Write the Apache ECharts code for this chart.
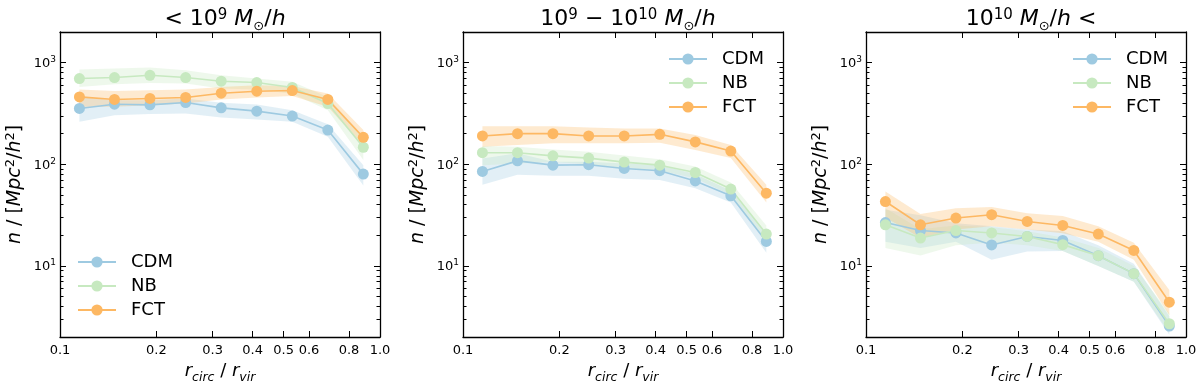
<!DOCTYPE html>
<html>
<head>
<meta charset="utf-8">
<script src="https://cdn.jsdelivr.net/npm/echarts@6/dist/echarts.min.js"></script>
<style>
html, body { margin: 0; padding: 0; background: #fff; }
#main { width: 1200px; height: 384px; }
</style>
</head>
<body>
<div id="main"></div>
<script>
// radial bins, r_circ / r_vir
var rBins = [0.115, 0.148, 0.191, 0.247, 0.319, 0.412, 0.532, 0.687, 0.887];

// tick values
var xTicks = [0.1, 0.2, 0.3, 0.4, 0.5, 0.6, 0.8, 1.0];
var yMajor = [10, 100, 1000];
var yMinor = [2, 3, 4, 5, 6, 7, 8, 9, 20, 30, 40, 50, 60, 70, 80, 90,
              200, 300, 400, 500, 600, 700, 800, 900];

// panel 1 : < 10^9 Msun/h
var cdm1   = [354, 390, 384, 405, 359, 333, 298, 217, 80];
var cdm1Lo = [262, 304, 313, 316, 289, 276, 262, 187, 62];
var cdm1Hi = [459, 427, 427, 443, 402, 388, 340, 247, 98];
var nb1    = [697, 713, 750, 713, 656, 637, 569, 396, 147];
var nb1Lo  = [577, 613, 631, 622, 556, 544, 495, 340, 110];
var nb1Hi  = [854, 873, 893, 840, 750, 697, 650, 460, 185];
var fct1   = [460, 434, 444, 454, 500, 523, 531, 434, 184];
var fct1Lo = [367, 367, 381, 396, 434, 454, 470, 367, 150];
var fct1Hi = [544, 527, 536, 544, 577, 600, 590, 497, 217];

// panel 2 : 10^9 - 10^10
var cdm2   = [85, 108, 98, 99, 91, 86.5, 68.6, 48.9, 17.4];
var cdm2Lo = [63, 79, 77, 77, 72, 70, 58, 42, 13.5];
var cdm2Hi = [114, 128, 106, 106, 102, 98, 80, 55, 21];
var nb2    = [130, 130, 121, 115, 105, 98, 83, 57, 20.6];
var nb2Lo  = [98, 102, 105, 100, 92, 87, 73, 50, 17];
var nb2Hi  = [151, 149, 140, 133, 122, 112, 95, 66, 25];
var fct2   = [190, 200, 200, 190, 190, 197, 166, 135, 52];
var fct2Lo = [149, 155, 161, 161, 161, 163, 138, 115, 42];
var fct2Hi = [237, 237, 237, 230, 225, 225, 194, 155, 63];

// panel 3 : > 10^10
var cdm3   = [26.7, 22.3, 21.1, 16.1, 19.5, 17.8, 12.6, 8.4, 2.56];
var cdm3Lo = [17.3, 15, 17.3, 11.5, 13.9, 14, 10, 7, 2.1];
var cdm3Hi = [35.7, 31.6, 26.3, 24.5, 22.8, 22, 16, 10.5, 3.2];
var nb3    = [25.4, 18.8, 22.3, 21.1, 19.5, 16.2, 12.6, 8.4, 2.7];
var nb3Lo  = [15, 12.7, 16, 17, 16, 14, 10, 7, 2.2];
var nb3Hi  = [37, 23, 25, 24, 22, 19, 15, 10, 3.4];
var fct3   = [43, 25.4, 29.6, 31.9, 27.4, 25, 20.6, 14.2, 4.4];
var fct3Lo = [30, 18.8, 22.8, 24.5, 22.8, 21, 17.3, 11.5, 3.3];
var fct3Hi = [54, 32.5, 37, 38, 33, 31, 24.5, 16.9, 5.8];

var names = ['CDM', 'NB', 'FCT'];
var colors = ['#9ecae1', '#c7e9c0', '#fdb863'];

var panels = [
    { left: 60,  vals: [cdm1, nb1, fct1], lo: [cdm1Lo, nb1Lo, fct1Lo], hi: [cdm1Hi, nb1Hi, fct1Hi],
      title: '{n|< 10}{sup|9}{n| }{i|M}{sub|⊙}{n|/}{i|h}', legend: { left: 77, top: 253 } },
    { left: 463, vals: [cdm2, nb2, fct2], lo: [cdm2Lo, nb2Lo, fct2Lo], hi: [cdm2Hi, nb2Hi, fct2Hi],
      title: '{n|10}{sup|9}{n| − 10}{sup|10}{n| }{i|M}{sub|⊙}{n|/}{i|h}', legend: { left: 668, top: 50 } },
    { left: 866, vals: [cdm3, nb3, fct3], lo: [cdm3Lo, nb3Lo, fct3Lo], hi: [cdm3Hi, nb3Hi, fct3Hi],
      title: '{n|10}{sup|10}{n| }{i|M}{sub|⊙}{n|/}{i|h}{n| <}', legend: { left: 1072, top: 50 } }
];

var FONT = 'DejaVu Sans';
var GW = 320, GH = 305, GTOP = 32;
var axisLine = { show: true, lineStyle: { color: '#000', width: 1.3 } };

var titleRich = {
    n:   { fontFamily: FONT, fontSize: 22, fontWeight: 'normal', color: '#000', verticalAlign: 'bottom', padding: [0, 0, 3, 0] },
    i:   { fontFamily: FONT, fontSize: 22, fontWeight: 'normal', color: '#000', fontStyle: 'italic', verticalAlign: 'bottom', padding: [0, 0, 3, 0] },
    sup: { fontFamily: FONT, fontSize: 15, fontWeight: 'normal', color: '#000', verticalAlign: 'bottom', padding: [0, 0, 10, 0] },
    sub: { fontFamily: FONT, fontSize: 13, fontWeight: 'normal', color: '#000', verticalAlign: 'bottom', padding: [0, 0, 0, 0] }
};
var nameRich = {
    n:   { fontFamily: FONT, fontSize: 18, color: '#000', verticalAlign: 'bottom', padding: [0, 0, 4, 0] },
    i:   { fontFamily: FONT, fontSize: 18, color: '#000', fontStyle: 'italic', verticalAlign: 'bottom', padding: [0, 0, 4, 0] },
    sup: { fontFamily: FONT, fontSize: 12.5, color: '#000', verticalAlign: 'bottom', padding: [0, 0, 12, 0] },
    sub: { fontFamily: FONT, fontSize: 12.5, color: '#000', fontStyle: 'italic', verticalAlign: 'bottom', padding: [0, 0, 0, 0] }
};
var yNameRich = {
    n:   { fontFamily: FONT, fontSize: 19, color: '#000', verticalAlign: 'bottom', padding: [0, 0, 0, 0] },
    i:   { fontFamily: FONT, fontSize: 19, color: '#000', fontStyle: 'italic', verticalAlign: 'bottom', padding: [0, 0, 0, 0] },
    sup: { fontFamily: FONT, fontSize: 13, color: '#000', verticalAlign: 'bottom', padding: [0, 0, 8, 0] }
};
var tickRich = {
    b: { fontFamily: FONT, fontSize: 13, color: '#000', verticalAlign: 'bottom' },
    s: { fontFamily: FONT, fontSize: 9, color: '#000', verticalAlign: 'bottom', padding: [0, 0, 6, 0] }
};

function bandRender(xs, lo, hi, color) {
    return function (params, api) {
        if (params.dataIndex !== 0) return;
        var pts = [];
        for (var i = 0; i < xs.length; i++) pts.push(api.coord([xs[i], hi[i]]));
        for (var j = xs.length - 1; j >= 0; j--) pts.push(api.coord([xs[j], lo[j]]));
        return { type: 'polygon', shape: { points: pts }, style: { fill: color, opacity: 0.3 } };
    };
}

var grid = [], xAxis = [], yAxis = [], series = [], title = [], legend = [];

panels.forEach(function (p, g) {
    grid.push({ left: p.left, top: GTOP, width: GW, height: GH, outerBoundsMode: 'none' });

    title.push({
        text: p.title, left: p.left + GW / 2, top: 3, textAlign: 'center',
        textStyle: { fontWeight: 'normal', rich: titleRich }
    });

    legend.push({
        data: names, orient: 'vertical', left: p.legend.left, top: p.legend.top,
        itemWidth: 38, itemHeight: 14, itemGap: 6, padding: 0, selectedMode: false,
        textStyle: { fontFamily: FONT, fontSize: 18, color: '#000', padding: [0, 0, 0, 10] }
    });

    // bottom and top x axes
    ['bottom', 'top'].forEach(function (pos) {
        xAxis.push({
            type: 'log', logBase: 10, gridIndex: g, position: pos, min: 0.1, max: 1,
            axisLine: axisLine,
            axisTick: { inside: true, length: 6, customValues: xTicks, lineStyle: { color: '#000', width: 1 } },
            axisLabel: {
                show: pos === 'bottom', customValues: xTicks, margin: 7,
                fontFamily: FONT, fontSize: 13, color: '#000',
                formatter: function (v) { return (+v).toFixed(1); }
            },
            splitLine: { show: false },
            name: pos === 'bottom' ? '{i|r}{sub|circ}{n| / }{i|r}{sub|vir}' : '',
            nameLocation: 'middle', nameGap: 20,
            nameTextStyle: { rich: nameRich }
        });
    });

    // left / right y axes, major and minor ticks
    [['left', true], ['right', true], ['left', false], ['right', false]].forEach(function (a) {
        var major = a[1];
        yAxis.push({
            type: 'log', logBase: 10, gridIndex: g, position: a[0], min: 2, max: 2000,
            axisLine: major ? axisLine : { show: false },
            axisTick: { inside: true, length: major ? 6 : 3.5, customValues: major ? yMajor : yMinor,
                        lineStyle: { color: '#000', width: 1 } },
            axisLabel: {
                show: major && a[0] === 'left', customValues: yMajor, margin: 4,
                formatter: function (v) { return '{b|10}{s|' + Math.round(Math.log10(v)) + '}'; },
                rich: tickRich
            },
            splitLine: { show: false },
            name: major && a[0] === 'left' ? '{i|n}{n| / [}{i|Mpc}{sup|2}{n|/}{i|h}{sup|2}{n|]}' : '',
            nameLocation: 'middle', nameGap: 35,
            nameTextStyle: { rich: yNameRich }
        });
    });

    for (var k = 0; k < 3; k++) {
        var vals = p.vals[k], lo = p.lo[k], hi = p.hi[k];
        series.push({
            type: 'custom', silent: true, xAxisIndex: 2 * g, yAxisIndex: 4 * g,
            renderItem: bandRender(rBins, lo, hi, colors[k]),
            encode: { x: 0, y: [1, 2] },
            data: rBins.map(function (x, i) { return [x, lo[i], hi[i]]; })
        });
        series.push({
            type: 'line', name: names[k], xAxisIndex: 2 * g, yAxisIndex: 4 * g,
            symbol: 'circle', symbolSize: 11, showSymbol: true,
            lineStyle: { color: colors[k], width: 1.6 },
            itemStyle: { color: colors[k] },
            data: rBins.map(function (x, i) { return [x, vals[i]]; })
        });
    }
});

var option = {
    animation: false,
    backgroundColor: '#fff',
    title: title,
    legend: legend,
    grid: grid,
    xAxis: xAxis,
    yAxis: yAxis,
    series: series
};

var chart = echarts.init(document.getElementById('main'));
chart.setOption(option);
</script>
</body>
</html>
